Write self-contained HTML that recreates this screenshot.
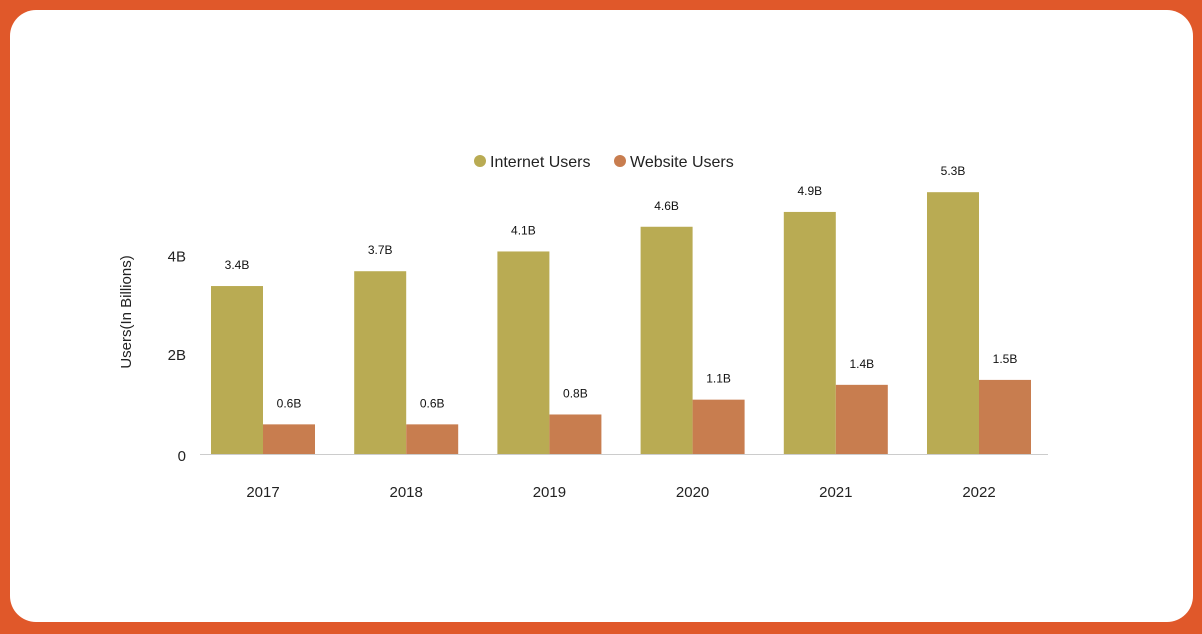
<!DOCTYPE html>
<html><head><meta charset="utf-8"><style>
html,body{margin:0;padding:0;width:1202px;height:634px;overflow:hidden;background:#E0582A;font-family:"Liberation Sans",sans-serif;}
#card{position:absolute;left:10px;top:10px;width:1183px;height:612px;background:#fff;border-radius:26px;}
svg{position:absolute;left:0;top:0;}
</style></head><body>
<div id="card"></div>
<svg id="chart" width="1202" height="634">
<g id="legend">
<g><circle cx="480" cy="161" r="6" fill="#B9AB53"/><text x="490" y="167" font-size="16" fill="#222">Internet Users</text></g>
<g><circle cx="620" cy="161" r="6" fill="#C87D4F"/><text x="630" y="167" font-size="16" fill="#222">Website Users</text></g>
</g>
<text transform="translate(131,312) rotate(-90)" text-anchor="middle" font-size="15" fill="#222">Users(In Billions)</text>
<line x1="200" y1="454.5" x2="1048" y2="454.5" stroke="#ccc" stroke-width="1"/>
</svg>
<script>
const categories=["2017","2018","2019","2020","2021","2022"];
const internetUsers=[3.4,3.7,4.1,4.6,4.9,5.3];
const websiteUsers=[0.6,0.6,0.8,1.1,1.4,1.5];
const yTicks=[0,2,4];
const yTickLabels=["0","2B","4B"];
const NS="http://www.w3.org/2000/svg";
const svg=document.getElementById('chart');
const baseY=454, pxPerB=49.4;
function y(v){return baseY-v*pxPerB;}
function xc(i){return 263+i*143.2;}
function mk(tag,attrs,parent){const e=document.createElementNS(NS,tag);for(const k in attrs)e.setAttribute(k,attrs[k]);(parent||svg).appendChild(e);return e;}
yTicks.forEach((t,i)=>{
  const tx=mk('text',{x:186,y:y(t)+(t===0?2:0)+5,'text-anchor':'end','font-size':15,fill:'#222'});
  
  
  tx.textContent=yTickLabels[i];
});
categories.forEach((c,i)=>{
  const cx=xc(i);
  const b1=mk('rect',{x:cx-52,y:y(internetUsers[i]),width:52,height:internetUsers[i]*pxPerB,fill:'#B9AB53'});
  
  
  const b2=mk('rect',{x:cx,y:y(websiteUsers[i]),width:52,height:websiteUsers[i]*pxPerB,fill:'#C87D4F'});
  
  
  const l1=mk('text',{x:cx-26,y:y(internetUsers[i])-17,'text-anchor':'middle','font-size':12,fill:'#111'});
  
  
  l1.textContent=internetUsers[i].toFixed(1)+'B';
  const l2=mk('text',{x:cx+26,y:y(websiteUsers[i])-17,'text-anchor':'middle','font-size':12,fill:'#111'});
  
  
  l2.textContent=websiteUsers[i].toFixed(1)+'B';
  const xl=mk('text',{x:cx,y:497,'text-anchor':'middle','font-size':15,fill:'#222'});
  
  
  xl.textContent=c;
});
</script>
</body></html>
